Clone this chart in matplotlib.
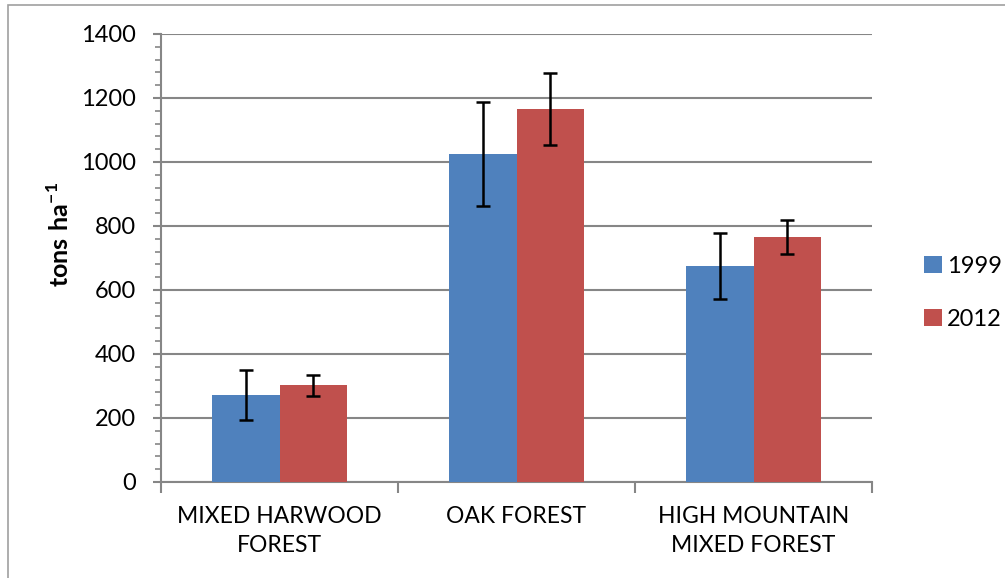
import numpy as np
import matplotlib.pyplot as plt
from matplotlib.patches import Rectangle

categories = ['MIXED HARWOOD\nFOREST', 'OAK FOREST', 'HIGH MOUNTAIN\nMIXED FOREST']
years = ['1999', '2012']
vals_1999 = [271, 1025, 674]
vals_2012 = [302, 1165, 765]
err_1999 = [78, 164, 103]
err_2012 = [32, 113, 54]
yticks = [0, 200, 400, 600, 800, 1000, 1200, 1400]

blue = '#4F81BD'
red = '#C0504D'
grid_c = '#868686'

plt.rcParams['font.family'] = ['Lato', 'DejaVu Sans']
plt.rcParams['mathtext.fontset'] = 'custom'
plt.rcParams['mathtext.bf'] = 'Lato:bold'
plt.rcParams['mathtext.rm'] = 'Lato'

fig = plt.figure(figsize=(10.05, 5.78), dpi=100)
ax = fig.add_axes([161 / 1005, 1 - 482 / 578, (872 - 161) / 1005, (482 - 34) / 578])

# outer chart border
fig.patches.append(Rectangle((8 / 1005, -0.1), 1.2, 1 - 5 / 578 + 0.1,
                             transform=fig.transFigure, fill=False,
                             edgecolor='#a0a0a0', linewidth=1.2))

x = np.arange(len(categories))
w = 1 / 3.5
ax.bar(x - w / 2, vals_1999, w, color=blue, label=years[0], zorder=3)
ax.bar(x + w / 2, vals_2012, w, color=red, label=years[1], zorder=3)
ax.errorbar(x - w / 2, vals_1999, yerr=err_1999, fmt='none', ecolor='black',
            elinewidth=1.8, capsize=5, capthick=1.8, zorder=4)
ax.errorbar(x + w / 2, vals_2012, yerr=err_2012, fmt='none', ecolor='black',
            elinewidth=1.8, capsize=5, capthick=1.8, zorder=4)

ax.set_xlim(-0.5, len(categories) - 0.5)
ax.set_ylim(0, 1400)
ax.set_yticks(yticks)
ax.set_yticks(np.arange(0, 1401, 40), minor=True)
ax.yaxis.grid(True, color=grid_c, linewidth=1.5, zorder=0)
ax.set_axisbelow(True)

# category labels between boundary ticks
ax.set_xticks(np.arange(-0.5, len(categories), 1.0))
ax.set_xticklabels([])
ax.set_xticks(x, minor=True)
ax.set_xticklabels(categories, minor=True, fontsize=16.5, linespacing=1.5)
ax.tick_params(axis='x', which='major', length=8, width=1.5, color=grid_c)
ax.tick_params(axis='x', which='minor', length=0, pad=17)
ax.tick_params(axis='y', which='major', length=6, width=1.5, color=grid_c,
               labelsize=17, pad=12)
ax.tick_params(axis='y', which='minor', length=4, width=1.2, color=grid_c)

for s in ['top', 'right']:
    ax.spines[s].set_visible(False)
for s in ['left', 'bottom']:
    ax.spines[s].set_color(grid_c)
    ax.spines[s].set_linewidth(1.5)

fig.text(60 / 1005, 1 - 234 / 578, r'$\mathbf{tons\ ha}^{\mathbf{-1}}$', rotation=90,
         ha='center', va='center', fontsize=18)

ax.legend(loc='center left', bbox_to_anchor=(903 / 1005, 1 - 293 / 578),
          bbox_transform=fig.transFigure, frameon=False, fontsize=17,
          handlelength=0.75, handleheight=0.75, handletextpad=0.2,
          labelspacing=1.35)

fig.savefig('out.png', dpi=100)
